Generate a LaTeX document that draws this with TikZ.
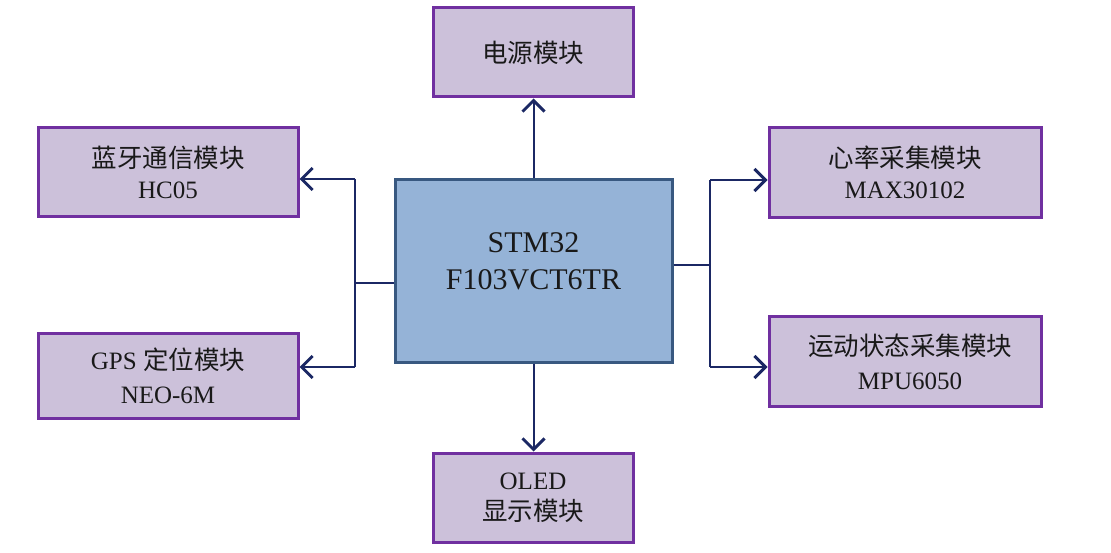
\documentclass[tikz,border=0pt]{standalone}
\usepackage{fontspec}
\setmainfont{Liberation Serif}
\newfontfamily\cjk{Noto Sans CJK SC}
\usetikzlibrary{arrows.meta}
\definecolor{modfill}{RGB}{204,193,218}
\definecolor{modedge}{RGB}{112,48,160}
\definecolor{mcufill}{RGB}{149,179,215}
\definecolor{mcuedge}{RGB}{56,88,128}
\definecolor{wire}{RGB}{27,40,100}
\definecolor{txt}{RGB}{25,25,25}
\newcommand{\zh}[1]{{\cjk\fontsize{25.5}{32}\selectfont #1}}
\begin{document}
\begin{tikzpicture}[x=1pt,y=-1pt,
  module/.style={draw=modedge,fill=modfill,line width=3pt,inner sep=0pt,
    minimum width=#1,minimum height=89pt,align=center,text=txt,
    font=\fontsize{25}{31}\selectfont},
  module/.default=260pt,
  mcu/.style={draw=mcuedge,fill=mcufill,line width=3pt,inner sep=0pt,
    minimum width=277pt,minimum height=182pt},
  mcutext/.style={align=center,text=txt,inner sep=0pt,font=\fontsize{30}{37}\selectfont},
  wireline/.style={draw=wire,line width=2pt},
  arr/.style={wireline,-{Straight Barb[length=11pt,width=22pt,line width=3pt]}}]
\useasboundingbox (0,0) rectangle (1111,553);
\node[mcu] (mcu) at (533.5,271) {};
\node[mcutext] (mcul) at (533.5,261.5) {STM32\\F103VCT6TR};
\node[module=200pt] (pwr) at (533,52.5) {\zh{电源模块}};
\node[module=200pt] (oled) at (533,497.5) {OLED\\\zh{显示模块}};
\node[module] (bt) at (168,172) {\zh{蓝牙通信模块}\\HC05};
\node[module,minimum height=85pt,font=\fontsize{25}{34}\selectfont] (gps) at (168,375.5) {GPS \zh{定位模块}\\NEO-6M};
\node[module=272pt,minimum height=90pt] (hr) at (905,172.5) {\zh{心率采集模块}\\MAX30102};
\node[module=272pt,minimum height=90pt,font=\fontsize{25}{34}\selectfont] (mpu) at (905,361.5) {\hspace*{10pt}\zh{运动状态采集模块}\\\hspace*{10pt}MPU6050};
% left bus
\coordinate (lbus) at (355,283);
\coordinate (lbt) at (355,179);
\coordinate (lgps) at (355,367);
\draw[wireline] (mcu.west |- lbus) -- (lbus);
\draw[wireline] (lbt) -- (lgps);
\draw[arr] (lbt) -- (bt.east |- lbt);
\draw[arr] (lgps) -- (gps.east |- lgps);
% right bus
\coordinate (rbus) at (710,265);
\coordinate (rhr) at (710,180);
\coordinate (rmpu) at (710,367);
\draw[wireline] (mcu.east |- rbus) -- (rbus);
\draw[wireline] (rhr) -- (rmpu);
\draw[arr] (rhr) -- (hr.west |- rhr);
\draw[arr] (rmpu) -- (mpu.west |- rmpu);
% vertical
\draw[arr] (mcu.north) -- (pwr.south -| mcu.north);
\draw[arr] (mcu.south) -- (oled.north -| mcu.south);
\end{tikzpicture}
\end{document}
